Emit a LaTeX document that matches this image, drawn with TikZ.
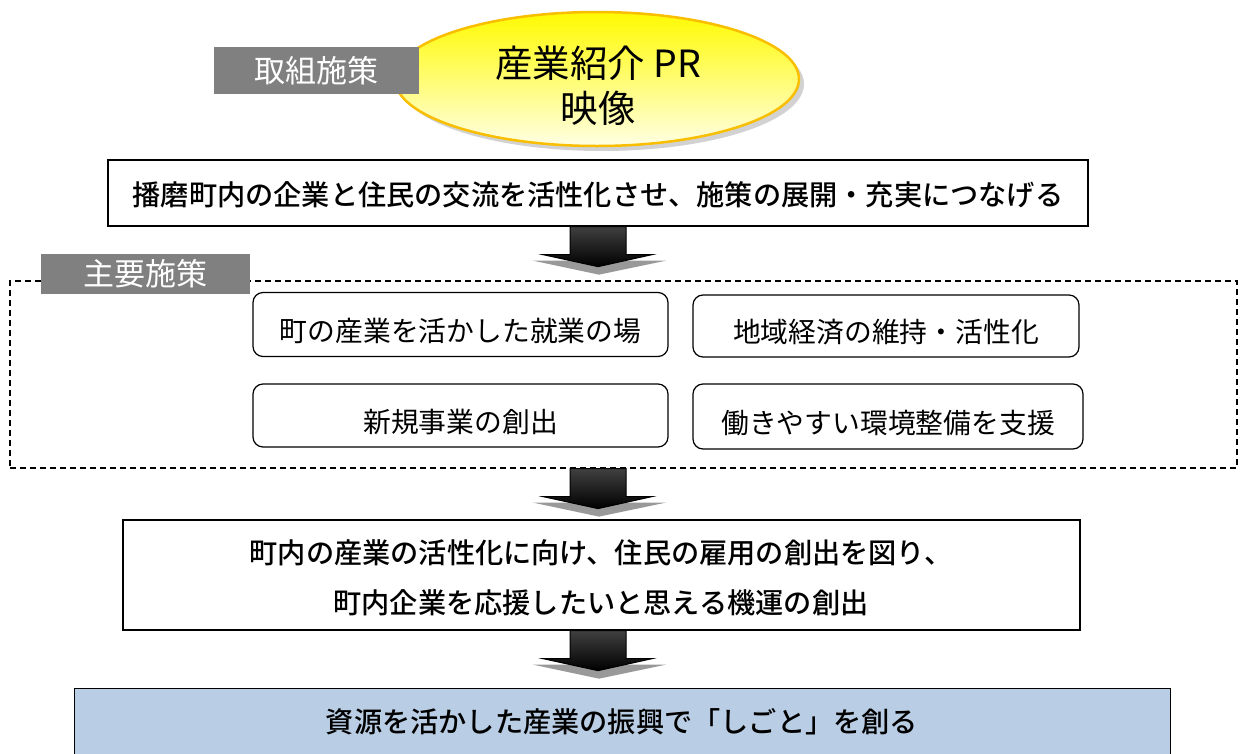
\documentclass[tikz,border=0pt]{standalone}
\usepackage{fontspec}
\setmainfont{Noto Sans CJK JP}
\newfontfamily\jpmed{Noto Sans CJK JP Medium}
\usetikzlibrary{shapes.geometric,shadows,calc}
\definecolor{tagfill}{RGB}{128,128,128}
\definecolor{bluefill}{RGB}{185,205,228}
\definecolor{orng}{RGB}{250,190,0}
\definecolor{ytop}{RGB}{255,250,0}
\definecolor{ybot}{RGB}{255,255,228}
\newcommand\blockarr[1]{%
  \begin{scope}[shift={(#1)}]
    \fill[black!40] (-65,34) -- (68,34) -- (1,48) -- cycle;
    \shade[draw=black, line width=1pt, top color=black!75, middle color=black!55, bottom color=black]
      (-28,0) -- (28,0) -- (28,28) -- (54,28) -- (0,40) -- (-55,28) -- (-28,28) -- cycle;
  \end{scope}}
\begin{document}
\begin{tikzpicture}[x=1pt,y=-1pt,
  tagbox/.style={fill=tagfill, text=white, inner sep=0pt, font=\fontsize{31}{32}\selectfont},
  mainbox/.style={draw=black, line width=1.3pt, fill=white, inner sep=0pt},
  maintext/.style={font=\fontsize{28.2}{50}\selectfont\jpmed, align=center},
  roundbox/.style={draw=black, line width=1.2pt, fill=white, rounded corners=10pt, inner sep=0pt},
  roundtext/.style={font=\fontsize{27.8}{30}\selectfont}]
\useasboundingbox (0,0) rectangle (1240,753);
\fill[white] (0,0) rectangle (1240,753);
\coordinate (axis) at (598,0);
% top ellipse
\node[ellipse, draw=orng, line width=2.5pt, top color=ytop, bottom color=ybot,
      minimum width=404pt, minimum height=134pt,
      drop shadow={shadow xshift=5pt, shadow yshift=-5pt, fill=black!35}] (pr) at (597,79) {};
\node[align=center, font=\fontsize{37.5}{45}\selectfont] (prtext) at (598,86) {産業紹介 PR\\映像};
\node[tagbox, minimum width=205pt, minimum height=47pt] (tag1) at (316.5,70.5) {取組施策};
% first box
\node[mainbox, minimum width=980pt, minimum height=66pt] (b1) at (598,193) {};
\node[maintext] (b1text) at (598,195) {播磨町内の企業と住民の交流を活性化させ、施策の展開・充実につなげる};
% dashed frame
\node[draw=black, dashed, dash pattern=on 6pt off 4pt, line width=1.2pt, minimum width=1227pt, minimum height=187pt, inner sep=0pt] (frame) at (623.5,374.5) {};
\node[tagbox, minimum width=209pt, minimum height=40pt] (tag2) at (145.5,274) {主要施策};
\node[roundbox, minimum width=415pt, minimum height=64pt] (r1) at (460.5,324.5) {};
\node[roundtext] (r1text) at ($(r1.center)+(0,6.5)$) {町の産業を活かした就業の場};
\node[roundbox, minimum width=386pt, minimum height=62pt] (r2) at (886,326) {};
\node[roundtext] (r2text) at ($(r2.center)+(0,6.5)$) {地域経済の維持・活性化};
\node[roundbox, minimum width=415pt, minimum height=63pt] (r3) at (460.5,415.5) {};
\node[roundtext] (r3text) at ($(r3.center)+(0,6.5)$) {新規事業の創出};
\node[roundbox, minimum width=390pt, minimum height=65pt] (r4) at (888,416.5) {};
\node[roundtext] (r4text) at ($(r4.center)+(0,6.5)$) {働きやすい環境整備を支援};
% third box
\node[mainbox, minimum width=957pt, minimum height=110pt] (b3) at (601.5,575) {};
\node[maintext] (b3text) at (601,578)
  {町内の産業の活性化に向け、住民の雇用の創出を図り、\\町内企業を応援したいと思える機運の創出};
% bottom box
\node[draw=black, line width=1pt, fill=bluefill, minimum width=1096pt, minimum height=100pt, inner sep=0pt] (b4) at (622,738) {};
\node[maintext] (b4text) at (622,722) {資源を活かした産業の振興で「しごと」を創る};
% arrows
\coordinate (a1) at (b1.south -| axis);
\coordinate (a2) at (frame.south -| axis);
\coordinate (a3) at (b3.south -| axis);
\blockarr{a1}
\blockarr{a2}
\blockarr{a3}
\end{tikzpicture}
\end{document}
